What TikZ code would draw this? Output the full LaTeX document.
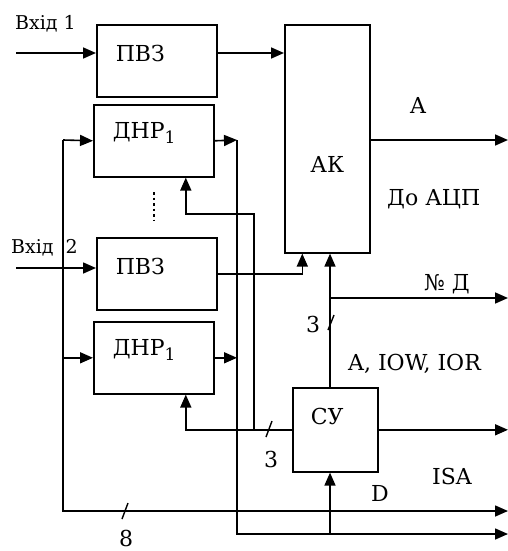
\documentclass[tikz,border=0pt]{standalone}
\usepackage{fontspec}
\setmainfont{DejaVu Serif}
\usetikzlibrary{arrows.meta,positioning,calc}

\begin{document}
\begin{tikzpicture}[
  x=1pt, y=-1pt,
  unit/.style={draw, line width=1.6pt, anchor=north west, inner ysep=0pt,
               font=\fontsize{22}{26}\selectfont},
  side/.style={unit, inner xsep=19pt, text width=82pt, align=left},
  arr/.style={-{Triangle[length=13pt,width=11pt]}, line width=1.6pt},
  tick/.style={line width=1.4pt},
  lbl/.style={anchor=base west, inner sep=0pt, font=\fontsize{22}{26}\selectfont},
  inlbl/.style={anchor=base west, inner sep=0pt, font=\fontsize{19}{23}\selectfont}
]
\useasboundingbox[fill=white] (0,0) rectangle (508,551);

% blocks
\node[side, text height=37pt, text depth=35pt] (pvz1) at (96,24) {ПВЗ};
\node[side, text height=34pt, text depth=38pt] (dnr1) at (93,104)
  {ДНР\raisebox{-5pt}{\fontsize{17}{17}\selectfont 1}};
\node[side, text height=37pt, text depth=35pt] (pvz2) at (96,237) {ПВЗ};
\node[side, text height=34pt, text depth=38pt] (dnr2) at (93,321)
  {ДНР\raisebox{-5pt}{\fontsize{17}{17}\selectfont 1}};
\node[unit, inner xsep=4pt, text width=77pt, align=center,
      text height=148pt, text depth=80pt] (ak) at (284,24) {АК};
\node[unit, inner xsep=18pt, text width=49pt, align=left,
      text height=37pt, text depth=47pt] (su) at (292,387) {СУ};

% free ends
\coordinate (in1) at (16,53);
\coordinate (in2) at (16,268);
\coordinate (bus8) at (63,140);
\coordinate (bus16) at (237,140);
\coordinate (fb) at (254,214);
\coordinate (nd) at (330,298);
\coordinate (outA) at (508,140);
\coordinate (outN) at (508,298);
\coordinate (out8) at (508,511);
\coordinate (out16) at (508,534);

% texts
\node[inlbl] (in1txt) at (15,30) {Вхід 1};
\node[inlbl] (in2txt) at (11,253) {Вхід\hspace{12pt}2};
\node[lbl] (atxt) at (410,113) {A};
\node[lbl] (adctxt) at (387,205) {До АЦП};
\node[lbl] (ndtxt) at (424,290) {№ Д};
\node[lbl] (n3a) at (306,332) {3};
\node[lbl] (ctltxt) at (348,370) {A, IOW, IOR};
\node[lbl] (n3b) at (264,467) {3};
\node[lbl] (isatxt) at (432,484) {ISA};
\node[lbl] (dtxt) at (371,501) {D};
\node[lbl] (n8) at (119,546) {8};

% inputs
\draw[arr] (in1) -- (in1 -| pvz1.west);
\draw[arr] (in2) -- (in2 -| pvz2.west);
\draw[arr] (in1 -| pvz1.east) -- (in1 -| ak.west);
\draw[arr] (pvz2.east) -| ([xshift=-25pt]ak.south);

% left bus
\draw[arr] (bus8) -- (dnr1.west);
\draw[arr] (bus8 |- dnr2.west) -- (dnr2.west);
\draw[arr] (bus8) |- (out8);

% outputs of dnr
\draw[arr] (dnr1.east) -- (bus16);
\draw[arr] (dnr2.east) -- (dnr2.east -| bus16);
\draw[arr] (bus16) |- (out16);

% control lines
\draw[arr] (su.west) -| ([xshift=32pt]dnr2.south);
\draw[arr] (su.west -| fb) -- (fb) -| ([xshift=32pt]dnr1.south);
\draw[arr] (nd |- su.north) -- (nd |- ak.south);
\draw[arr] (nd) -- (outN);
\draw[arr] (ak.east |- outA) -- (outA);
\draw[arr] (su.east) -- (su.east -| outA);
\draw[arr] (nd |- out16) -- (nd |- su.south);

% bus widths
\draw[tick] (122,519) -- (128,503);
\draw[tick] (266,437) -- (272,421);
\draw[tick] (328,330) -- (334,315);

% dots
\draw[line width=2.5pt, dash pattern=on 2.5pt off 3pt] (154,192) -- (154,220);
\end{tikzpicture}
\end{document}
